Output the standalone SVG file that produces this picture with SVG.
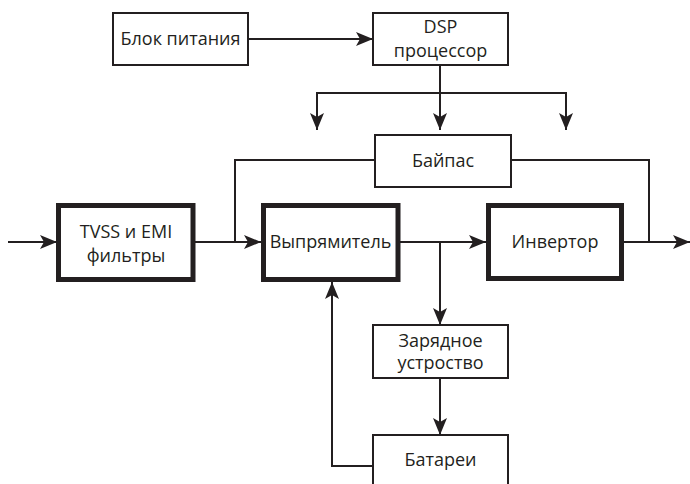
<svg xmlns="http://www.w3.org/2000/svg" width="690" height="484" viewBox="0 0 690 484">
<style>
.thin{fill:#fff;stroke:#231f20;stroke-width:2}
.thick{fill:#fff;stroke:#231f20;stroke-width:5}
.t{font-family:"Open Sans","Noto Sans",sans-serif;font-size:18px;fill:#231f20;text-anchor:middle}
.c{fill:none;stroke:#231f20;stroke-width:2}
</style>
<defs>
<marker id="a" markerUnits="userSpaceOnUse" viewBox="0 0 17 14" refX="17" refY="7" markerWidth="17" markerHeight="14" orient="auto">
<path d="M0,0 L17,7 L0,14 L4,7 Z" fill="#231f20"/>
</marker>
</defs>
<g id="connectors">
<path class="c" d="M248,39 H373" marker-end="url(#a)"/>
<path class="c" d="M440,65 V130" marker-end="url(#a)"/>
<path class="c" d="M317,93 H566"/>
<path class="c" d="M317,92 V130" marker-end="url(#a)"/>
<path class="c" d="M566,92 V130" marker-end="url(#a)"/>
<path class="c" d="M8,242 H57" marker-end="url(#a)"/>
<path class="c" d="M195,242 H261" marker-end="url(#a)"/>
<path class="c" d="M235,242 V160 H375"/>
<path class="c" d="M511,160 H649 V242"/>
<path class="c" d="M400,242 H486" marker-end="url(#a)"/>
<path class="c" d="M440,242 V325" marker-end="url(#a)"/>
<path class="c" d="M624,242 H690" marker-end="url(#a)"/>
<path class="c" d="M440,378 V435" marker-end="url(#a)"/>
<path class="c" d="M373,466 H332 V282" marker-end="url(#a)"/>
</g>
<g id="power"><rect class="thin" x="113" y="13" width="135" height="52"/><text class="t" x="180.5" y="45">Блок питания</text></g>
<g id="dsp"><rect class="thin" x="373" y="13" width="135" height="52"/><text class="t" x="440.5" y="33">DSP</text><text class="t" x="440.5" y="57">процессор</text></g>
<g id="bypass"><rect class="thin" x="375" y="135" width="136" height="52"/><text class="t" x="443" y="167">Байпас</text></g>
<g id="tvss"><rect class="thick" x="58.5" y="205.5" width="134.5" height="74"/><text class="t" x="126" y="238">TVSS и EMI</text><text class="t" x="126" y="262">фильтры</text></g>
<g id="rectifier"><rect class="thick" x="263.5" y="205.5" width="134.5" height="74"/><text class="t" x="330.5" y="248">Выпрямитель</text></g>
<g id="inverter"><rect class="thick" x="488.5" y="205.5" width="133" height="73"/><text class="t" x="555" y="248">Инвертор</text></g>
<g id="charger"><rect class="thin" x="373" y="325" width="135" height="53"/><text class="t" x="440.5" y="347">Зарядное</text><text class="t" x="440.5" y="369">устроство</text></g>
<g id="battery"><rect class="thin" x="373" y="435" width="135" height="60"/><text class="t" x="440.5" y="466">Батареи</text></g>
</svg>
